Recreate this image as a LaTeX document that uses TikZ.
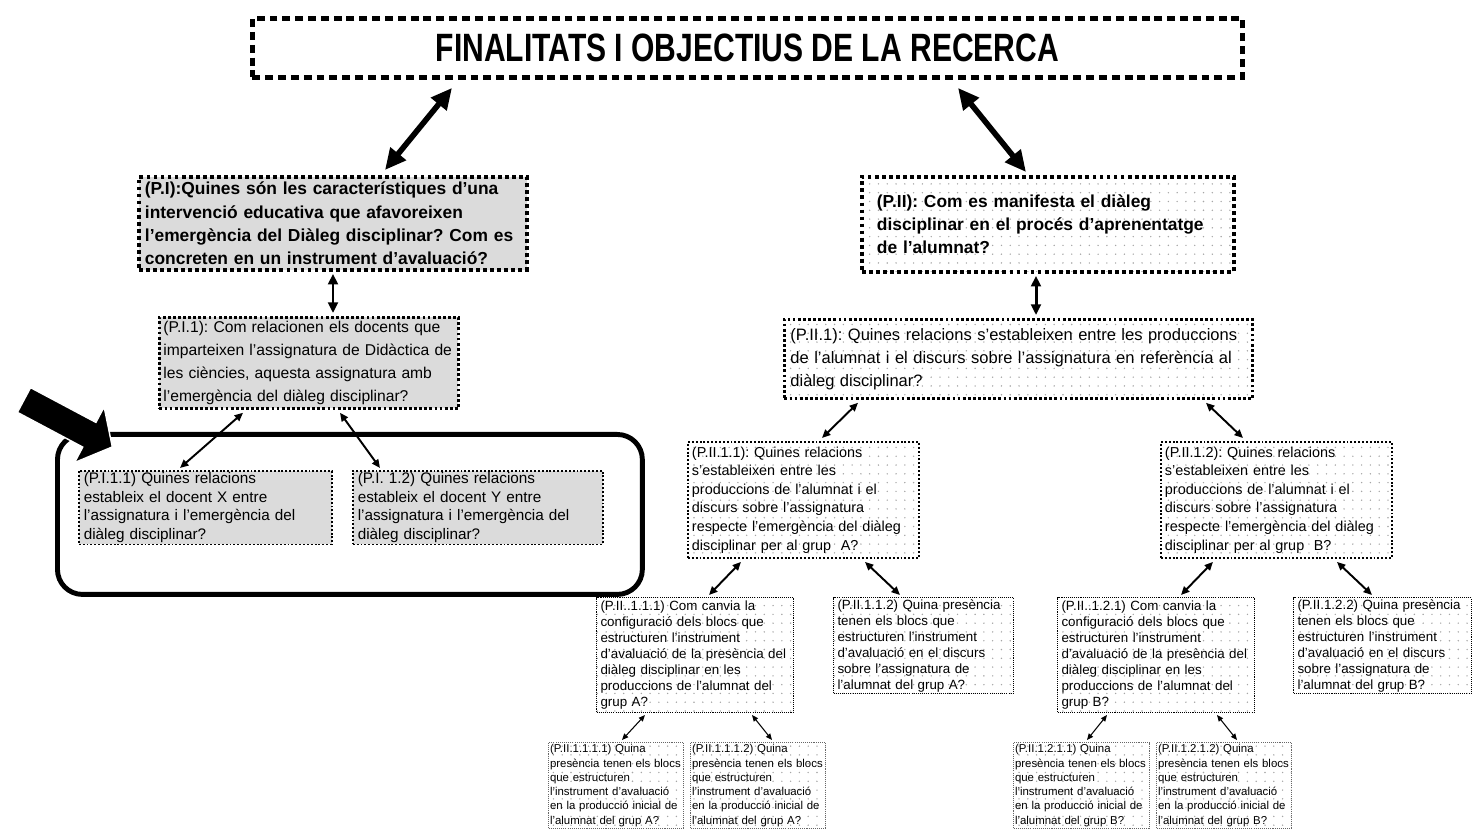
\documentclass[tikz,border=0pt]{standalone}
\usepackage{graphicx}
\usepackage{fontspec}
\setmainfont{Liberation Sans}
\usepackage{tikz}
\usetikzlibrary{arrows.meta}
\usetikzlibrary{calc}
\usetikzlibrary{patterns.meta}
\frenchspacing

\begin{document}
\begin{tikzpicture}[x=0.02cm, y=-0.02cm,
    qbox/.style={anchor=north west, align=left, inner ysep=1pt, inner xsep=0.08cm},
    greybox/.style={qbox, fill=black!14},
    dotbox/.style={qbox, pattern={Dots[distance=5pt, radius=0.45pt]}, pattern color=black!35},
    brdA/.style={draw, line width=2.2pt, dash pattern=on 2.2pt off 1.8pt},
    brdB/.style={draw, line width=1.6pt, dash pattern=on 1.6pt off 1.3pt},
    brdC/.style={draw, line width=1.1pt, dash pattern=on 1.1pt off 1.1pt},
    brdD/.style={draw, line width=0.6pt, dash pattern=on 0.6pt off 0.6pt},
    brdE/.style={draw=black!60, line width=0.6pt, dash pattern=on 0.6pt off 0.6pt},
    bigarr/.style={line width=3.2pt, {Triangle[length=12pt,width=11pt]}-{Triangle[length=12pt,width=11pt]}},
    midarr/.style={line width=1.7pt, {Triangle[length=6pt,width=5.5pt]}-{Triangle[length=6pt,width=5.5pt]}},
    smallarr/.style={line width=1.1pt, {Triangle[length=4.8pt,width=4.2pt]}-{Triangle[length=4.8pt,width=4.2pt]}},
    tinyarr/.style={line width=0.6pt, {Triangle[length=3.6pt,width=3pt]}-{Triangle[length=3.6pt,width=3pt]}}]
\useasboundingbox (0,0) rectangle (1472,834);

% title
\node[anchor=north west, draw, line width=2.8pt, dash pattern=on 4.5pt off 2.8pt, minimum width=19.8cm, minimum height=1.18cm] (title) at (250,16)
    {\scalebox{0.76}[1]{\fontsize{22.5}{26}\selectfont\bfseries FINALITATS I OBJECTIUS DE LA RECERCA}};

% first level
\node[greybox, brdA, font=\fontsize{9.9}{13.2}\selectfont\bfseries, inner xsep=0.12cm, text width=7.52cm, minimum height=1.86cm] (pI) at (137,175)
    {(P.I):Quines són les característiques d’una\\intervenció educativa que afavoreixen\\l’emergència del Diàleg disciplinar? Com es\\concreten en un instrument d’avaluació?};
\node[dotbox, brdA, font=\fontsize{9.9}{13.2}\selectfont\bfseries, inner xsep=0.3cm, text width=6.84cm, minimum height=1.9cm] (pII) at (860,175)
    {(P.II): Com es manifesta el diàleg\\disciplinar en el procés d’aprenentatge\\de l’alumnat?};

% second level
\node[greybox, brdB, font=\fontsize{8.9}{13}\selectfont, text width=5.82cm, minimum height=1.82cm] (pI1) at (158,316)
    {(P.I.1): Com relacionen els docents que\\imparteixen l’assignatura de Didàctica de\\les ciències, aquesta assignatura amb\\l’emergència del diàleg disciplinar?};
\node[dotbox, brdB, font=\fontsize{9.4}{13}\selectfont, inner xsep=0.12cm, text width=9.12cm, minimum height=1.58cm] (pII1) at (783,318)
    {(P.II.1): Quines relacions s’estableixen entre les produccions\\de l’alumnat i el discurs sobre l’assignatura en referència al\\diàleg disciplinar?};

% frame round the two teacher questions
\node[anchor=north west, draw, line width=2.8pt, rounded corners=0.5cm, minimum width=11.7cm, minimum height=3.2cm] (frame) at (55,432) {};
\begin{scope}[shift={(24,400)}, rotate=-28]
  \fill[draw=white, line width=0.8pt] (0,-14) -- (74,-14) -- (74,-31.5) -- (100,0) -- (74,31.5) -- (74,14) -- (0,14) -- cycle;
\end{scope}

\node[greybox, brdC, line width=0.9pt, font=\fontsize{8.7}{10.6}\selectfont, inner xsep=0.1cm, text width=4.86cm, minimum height=1.44cm] (pI11) at (78,470)
    {(P.I.1.1) Quines relacions\\estableix el docent X entre\\l’assignatura i l’emergència del\\diàleg disciplinar?};
\node[greybox, brdC, line width=0.9pt, font=\fontsize{8.7}{10.6}\selectfont, inner xsep=0.1cm, text width=4.8cm, minimum height=1.44cm] (pI12) at (352,470)
    {(P.I. 1.2) Quines relacions\\estableix el docent Y entre\\l’assignatura i l’emergència del\\diàleg disciplinar?};

% third level
\node[dotbox, brdC, font=\fontsize{8.2}{10.6}\selectfont, text width=4.46cm, minimum height=2.32cm] (pII11) at (687,441)
    {(P.II.1.1): Quines relacions\\s’estableixen entre les\\produccions de l’alumnat i el\\discurs sobre l’assignatura\\respecte l’emergència del diàleg\\disciplinar per al grup\ \ A?};
\node[dotbox, brdC, font=\fontsize{8.2}{10.6}\selectfont, text width=4.46cm, minimum height=2.32cm] (pII12) at (1160,441)
    {(P.II.1.2): Quines relacions\\s’estableixen entre les\\produccions de l’alumnat i el\\discurs sobre l’assignatura\\respecte l’emergència del diàleg\\disciplinar per al grup\ \ B?};

% fourth level
\node[dotbox, brdD, font=\fontsize{7.6}{9.1}\selectfont, text width=3.78cm, minimum height=2.3cm] (pII111) at (596,597)
    {(P.II..1.1.1) Com canvia la\\configuració dels blocs que\\estructuren l’instrument\\d’avaluació de la presència del\\diàleg disciplinar en les\\produccions de l’alumnat del\\grup A?};
\node[dotbox, brdD, font=\fontsize{7.6}{9.1}\selectfont, text width=3.44cm, minimum height=1.82cm] (pII112) at (833,597)
    {(P.II.1.1.2) Quina presència\\tenen els blocs que\\estructuren l’instrument\\d’avaluació en el discurs\\sobre l’assignatura de\\l’alumnat del grup A?};
\node[dotbox, brdD, font=\fontsize{7.6}{9.1}\selectfont, text width=3.78cm, minimum height=2.3cm] (pII121) at (1057,597)
    {(P.II..1.2.1) Com canvia la\\configuració dels blocs que\\estructuren l’instrument\\d’avaluació de la presència del\\diàleg disciplinar en les\\produccions de l’alumnat del\\grup B?};
\node[dotbox, brdD, font=\fontsize{7.6}{9.1}\selectfont, text width=3.4cm, minimum height=1.82cm] (pII122) at (1293,597)
    {(P.II.1.2.2) Quina presència\\tenen els blocs que\\estructuren l’instrument\\d’avaluació en el discurs\\sobre l’assignatura de\\l’alumnat del grup B?};

% fifth level
\node[dotbox, brdE, font=\fontsize{6.5}{8.1}\selectfont, inner xsep=0.03cm, text width=2.64cm, minimum height=1.72cm] (pII1111) at (548,742)
    {(P.II.1.1.1.1) Quina\\presència tenen els blocs\\que estructuren\\l’instrument d’avaluació\\en la producció inicial de\\l’alumnat del grup A?};
\node[dotbox, brdE, font=\fontsize{6.5}{8.1}\selectfont, inner xsep=0.03cm, text width=2.64cm, minimum height=1.72cm] (pII1112) at (690,742)
    {(P.II.1.1.1.2) Quina\\presència tenen els blocs\\que estructuren\\l’instrument d’avaluació\\en la producció inicial de\\l’alumnat del grup A?};
\node[dotbox, brdE, font=\fontsize{6.5}{8.1}\selectfont, inner xsep=0.03cm, text width=2.66cm, minimum height=1.72cm] (pII1211) at (1013,742)
    {(P.II.1.2.1.1) Quina\\presència tenen els blocs\\que estructuren\\l’instrument d’avaluació\\en la producció inicial de\\l’alumnat del grup B?};
\node[dotbox, brdE, font=\fontsize{6.5}{8.1}\selectfont, inner xsep=0.03cm, text width=2.64cm, minimum height=1.72cm] (pII1212) at (1156,742)
    {(P.II.1.2.1.2) Quina\\presència tenen els blocs\\que estructuren\\l’instrument d’avaluació\\en la producció inicial de\\l’alumnat del grup B?};

% connectors
\draw[bigarr] ($(title.south west)+(202,8)$) -- ($(pI.north west)+(248,-5)$);
\draw[bigarr] ($(title.south west)+(708,8)$) -- ($(pII.north west)+(166,-3)$);
\draw[midarr] ($(pI.south west)+(196,2)$) -- ($(pI1.north west)+(175,-3)$);
\draw[midarr] ($(pII.south west)+(176,2)$) -- ($(pII1.north west)+(253,-3)$);
\draw[smallarr] ($(pI1.south west)+(85,3)$) -- ($(pI11.north west)+(102,-2)$);
\draw[smallarr] ($(pI1.south west)+(182,3)$) -- ($(pI12.north west)+(28,-2)$);
\draw[smallarr] ($(pII1.south west)+(75,3)$) -- ($(pII11.north west)+(135,-3)$);
\draw[smallarr] ($(pII1.south west)+(423,3)$) -- ($(pII12.north west)+(83,-3)$);
\draw[smallarr] ($(pII11.south west)+(54,3)$) -- ($(pII111.north west)+(113,-2)$);
\draw[smallarr] ($(pII11.south west)+(178,3)$) -- ($(pII112.north west)+(67,-2)$);
\draw[smallarr] ($(pII12.south west)+(53,3)$) -- ($(pII121.north west)+(124,-2)$);
\draw[smallarr] ($(pII12.south west)+(177,3)$) -- ($(pII122.north west)+(79,-2)$);
\draw[tinyarr] ($(pII111.south west)+(49,2)$) -- ($(pII1111.north west)+(74,-2)$);
\draw[tinyarr] ($(pII111.south west)+(156,2)$) -- ($(pII1112.north west)+(82,-2)$);
\draw[tinyarr] ($(pII121.south west)+(50,2)$) -- ($(pII1211.north west)+(74,-2)$);
\draw[tinyarr] ($(pII121.south west)+(160,2)$) -- ($(pII1212.north west)+(81,-2)$);
\end{tikzpicture}
\end{document}
